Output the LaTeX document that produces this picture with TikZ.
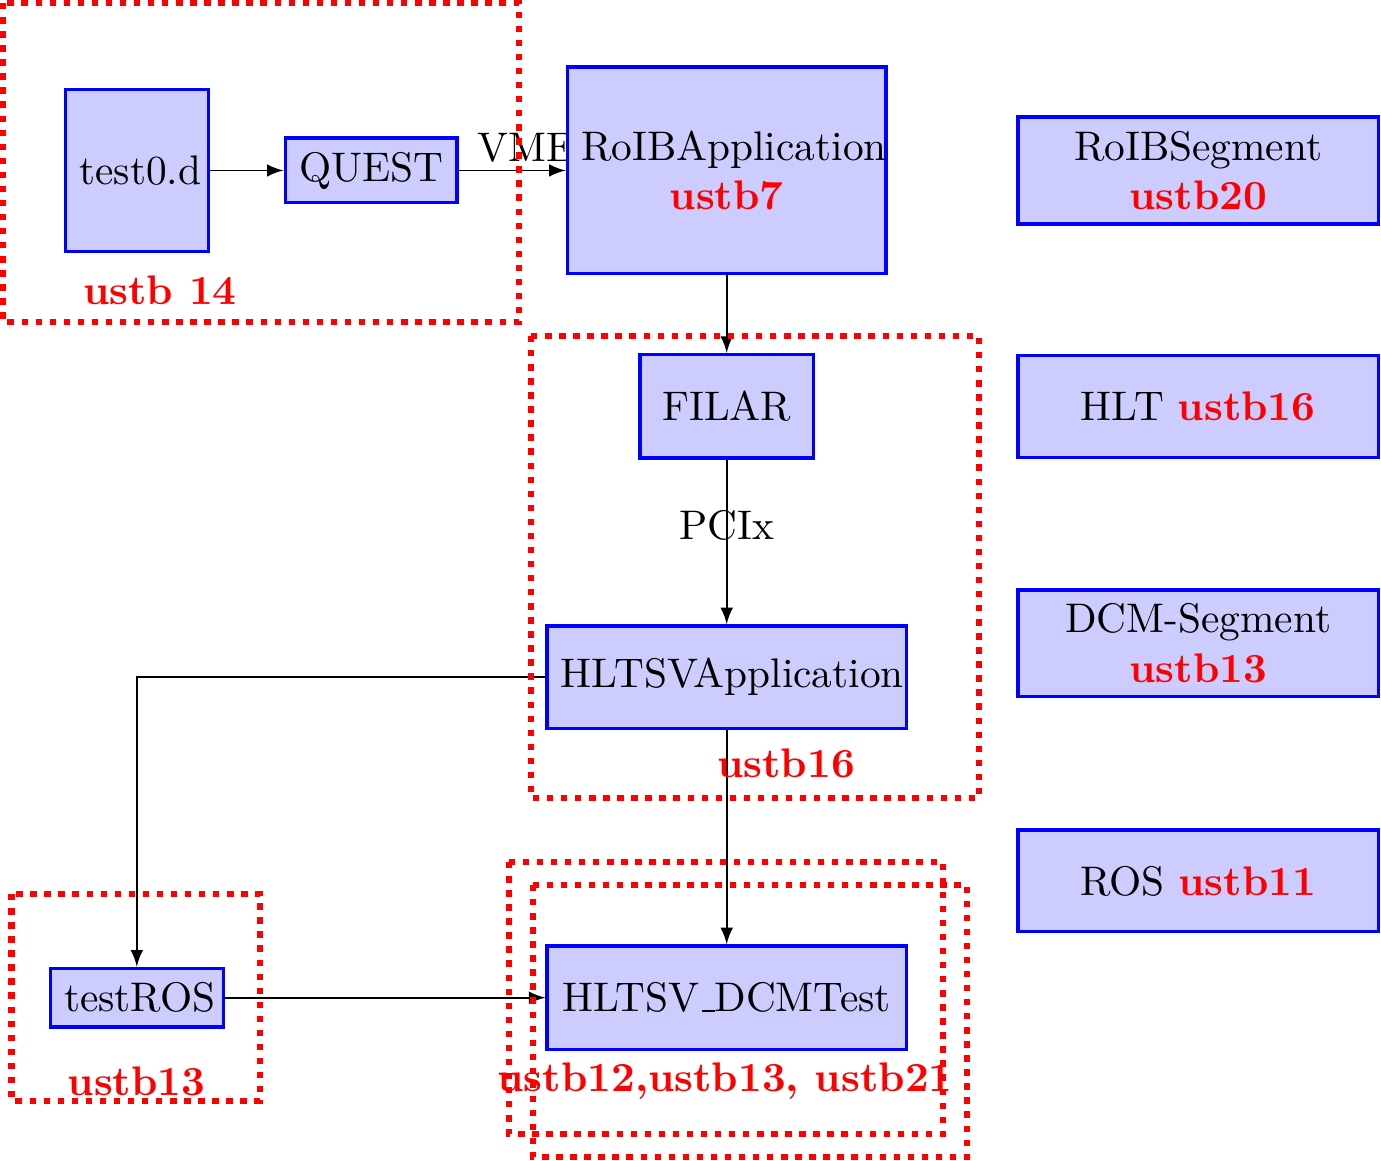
\documentclass[tikz,border=0pt]{standalone}
\usepackage{amsmath}
\usepackage{tikz}
\usetikzlibrary{arrows,positioning}
\tikzstyle{conn}=[
	-latex,
	draw=black
]
\tikzstyle{proc}=[
	draw=blue,
	fill=blue!20,
	thick,
	align=center
]
\tikzstyle{hostbox}=[
	draw=red,
	line width=1.6pt,
	dash pattern=on 1.55pt off 1.85pt
]
\tikzstyle{hostname}=[
	text=red,
	font=\bfseries
]
\newcommand{\hst}[1]{\textcolor{red}{\textbf{#1}}}
\newcommand{\usc}{\kern.06em\vbox{\hrule width.3em}}

\begin{document}
\begin{tikzpicture}
\useasboundingbox (0,0) rectangle (11.738,-9.868);
\node (vme) at (4.471,-1.254) {VME};

\node[proc, text width=0.98cm, minimum height=1.374cm] (test) at (1.165,-1.449) {test0.d};
\node[proc, right=0.624cm of test] (quest) {QUEST};
\node[proc, right=0.91cm of quest, text width=2.475cm, minimum height=1.757cm] (roib) {RoIBApplication\\\hst{ustb7}};
\node[proc, below=0.658cm of roib, minimum width=1.475cm, minimum height=0.88cm] (filar) {FILAR};
\node[proc, below=1.398cm of filar, text width=2.82cm, minimum height=0.87cm] (hltsv) {HLTSVApplication};
\node[proc, below=1.822cm of hltsv, text width=2.82cm, minimum height=0.88cm] (dcmtest) {HLTSV\usc DCMTest};
\node[proc, left=2.724cm of dcmtest, text width=1.235cm, minimum height=0.50cm] (testros) {testROS};

\node[proc, right=1.092cm of roib, text width=2.83cm, minimum height=0.864cm] (roibseg) {RoIBSegment\\\hst{ustb20}};
\node[proc, below=1.092cm of roibseg, text width=2.83cm, minimum height=0.864cm] (hlt) {HLT \hst{ustb16}};
\node[proc, below=1.100cm of hlt, text width=2.83cm, minimum height=0.864cm] (dcm) {DCM-Segment\\\hst{ustb13}};
\node[proc, below=1.105cm of dcm, text width=2.83cm, minimum height=0.864cm] (ros) {ROS \hst{ustb11}};

\draw[conn] (test) -- (quest);
\draw[conn] (quest) -- (roib);
\draw[conn] (roib) -- (filar);
\draw[conn] (filar) -- node[pos=0.4] {PCIx} (hltsv);
\draw[conn] (hltsv.west) -| (testros.north);
\draw[conn] (hltsv) -- (dcmtest);
\draw[conn] (testros) -- (dcmtest);

\node[hostname] (lab14) at (1.360,-2.465) {ustb 14};
\node[hostname] (lab16) at (6.681,-6.485) {ustb16};
\node[hostname] (lab13) at (1.160,-9.188) {ustb13};
\node[hostname] (lab12) at (6.162,-9.188) {ustb12,ustb13, ustb21};

% hosts
\draw[hostbox] (0.026,-0.026) rectangle (4.411,-2.737);
\draw[hostbox] (4.513,-2.856) rectangle (8.321,-6.783);
\draw[hostbox] (0.098,-7.599) rectangle (2.210,-9.358);
\draw[hostbox] (4.326,-7.327) rectangle (8.015,-9.639);
\draw[hostbox] (4.530,-7.522) rectangle (8.219,-9.834);
\end{tikzpicture}
\end{document}
